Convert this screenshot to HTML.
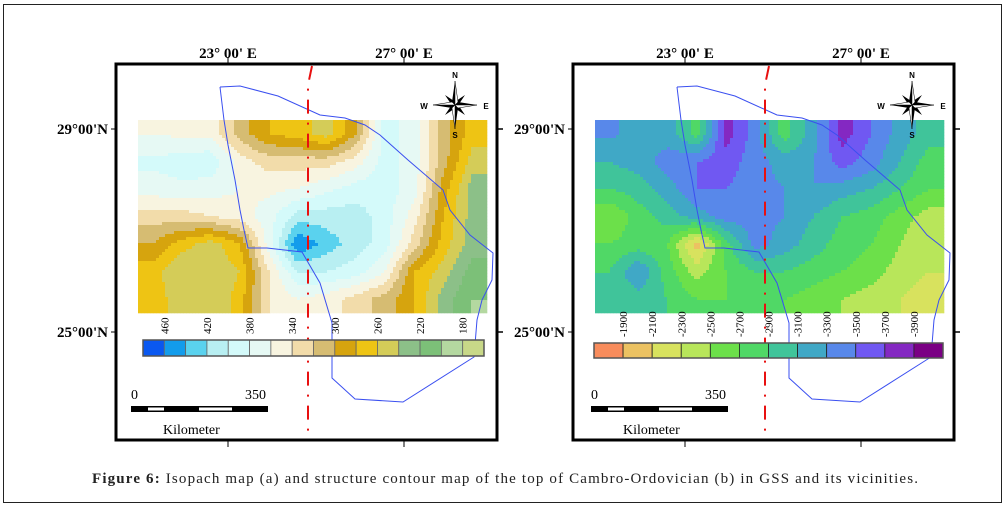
<!DOCTYPE html>
<html><head><meta charset="utf-8"><style>
body{margin:0;background:#fff;width:1006px;height:508px;overflow:hidden;font-family:"Liberation Serif",serif}
svg{position:absolute;left:0;top:0}
</style></head><body>
<svg id="fig" width="1006" height="508" viewBox="0 0 1006 508">
<rect x="3.5" y="4.5" width="998" height="498" fill="#fff" stroke="#222" stroke-width="1"/>
<g id="mapA"></g>
<g id="mapB"></g>
<text x="92" y="483" font-size="15" textLength="826" lengthAdjust="spacing" fill="#222"><tspan font-weight="bold">Figure 6:</tspan> Isopach map (a) and structure contour map of the top of Cambro-Ordovician (b) in GSS and its vicinities.</text>
</svg>
<script>
// Isopach thickness grid (rows top->bottom, cols left->right)
const isoGrid = [
 [350,345,345,300,270,260,240,290,380,360,300,260],
 [375,380,385,340,320,320,320,340,380,360,300,240],
 [360,365,360,350,345,350,365,380,380,360,280,220],
 [320,320,330,340,360,400,400,400,380,340,270,220],
 [290,260,240,270,360,450,420,400,380,320,260,220],
 [260,230,230,250,330,390,390,380,350,270,240,200],
 [260,240,230,260,330,350,340,320,300,270,220,190]
];
const isoLabels = ["460","420","380","340","300","260","220","180"];
const isoColors = ["#0a58f0","#139ceb","#5ad2ee","#b8eff2","#d4fafa","#e6f9f4","#f8f4e0","#f2dcaa","#d6bc72","#d6a40e","#eec414","#d4cc58","#8cc088","#7cc078","#b4d8a0","#c8d888"];
// Structure contour depth grid
const strGrid = [
 [-3450,-3300,-3300,-2900,-3900,-3500,-2900,-3300,-3900,-3600,-3300,-3100],
 [-3200,-3300,-3500,-3600,-3700,-3500,-3300,-3400,-3700,-3500,-3200,-2900],
 [-3000,-3100,-3300,-3600,-3600,-3500,-3400,-3400,-3300,-3200,-3000,-2800],
 [-2600,-2900,-3100,-3300,-3500,-3500,-3400,-3200,-3000,-2900,-2700,-2500],
 [-2800,-2900,-2800,-2100,-2900,-3500,-3300,-3100,-2900,-2800,-2600,-2400],
 [-3000,-3400,-2900,-2500,-2800,-3000,-3000,-2900,-2800,-2700,-2500,-2400],
 [-3100,-3100,-3000,-2800,-2800,-2900,-2800,-2700,-2600,-2500,-2400,-2300]
];
const strLabels = ["-1900","-2100","-2300","-2500","-2700","-2900","-3100","-3300","-3500","-3700","-3900"];
const strColors = ["#f88c5c","#ecc262","#d8e25e","#b8e65a","#6ce04a","#50d866","#40c49a","#40a8c6","#5888ea","#7058f2","#8428c2","#7a0084"];

const NS="http://www.w3.org/2000/svg";
function mk(tag,attrs,parent){const e=document.createElementNS(NS,tag);for(const k in attrs)e.setAttribute(k,attrs[k]);if(parent)parent.appendChild(e);return e;}

function drawMap(g,dx,grid,classOf,colors,labels,isIso){
  const fx=116+dx, fy=64, fw=381, fh=376;
  const rx=138+dx, ry=120, rw=349, rh=193;
  const rows=grid.length, cols=grid[0].length;
  const cw=rw/cols, ch=rh/rows;
  const field=mk('g',{},g);
  
  
  const step=3;
  for(let py=0;py<rh;py+=step){
    for(let px=0;px<rw;px+=step){
      let gx=(px+step/2)/cw-0.5, gy=(py+step/2)/ch-0.5;
      gx=Math.max(0,Math.min(cols-1,gx)); gy=Math.max(0,Math.min(rows-1,gy));
      const x0=Math.floor(gx), y0=Math.floor(gy);
      const x1=Math.min(cols-1,x0+1), y1=Math.min(rows-1,y0+1);
      const tx=gx-x0, ty=gy-y0;
      const v=(grid[y0][x0]*(1-tx)+grid[y0][x1]*tx)*(1-ty)+(grid[y1][x0]*(1-tx)+grid[y1][x1]*tx)*ty;
      mk('rect',{x:rx+px,y:ry+py,width:Math.min(step,rw-px)+0.3,height:Math.min(step,rh-py)+0.3,fill:colors[classOf(v)]},field);
    }
  }
  const bx=[220,240,278,320,345,365,380,408,443,450,470,493,492,482,477,474,403,355,332,332,320,302,267,248,244,240,235,228,224,220];
  const by=[87,86,96,115,118,125,135,160,190,210,235,253,280,300,320,357,402,399,378,323,283,252,248,248,230,210,180,145,120,87];
  let pts=bx.map((x,i)=>(x+dx)+','+by[i]).join(' ');
  const poly=mk('polyline',{points:pts,fill:'none',stroke:'#3a4ff0','stroke-width':1},g);
  
  
  const rl=mk('path',{d:`M${312+dx} ${fy+2} L${308+dx} 85 L${308+dx} ${fy+fh-2}`,fill:'none',stroke:'#e81010','stroke-width':2,'stroke-dasharray':'14 9 2 9'},g);
  
  
  const fr=mk('rect',{x:fx,y:fy,width:fw,height:fh,fill:'none',stroke:'#000','stroke-width':3},g);
  
  
  [[228,"23° 00' E"],[404,"27° 00' E"]].forEach(([x,t])=>{
    mk('line',{x1:x+dx,y1:fy-7,x2:x+dx,y2:fy,stroke:'#000','stroke-width':1},g);
    mk('line',{x1:x+dx,y1:fy+fh,x2:x+dx,y2:fy+fh+7,stroke:'#000','stroke-width':1},g);
    const tt=mk('text',{x:x+dx,y:58,'font-size':15,'font-weight':'bold','text-anchor':'middle'},g);
    tt.textContent=t;
    
    
  });
  [[129,"29°00'N"],[332,"25°00'N"]].forEach(([y,t])=>{
    mk('line',{x1:fx-5,y1:y,x2:fx,y2:y,stroke:'#000','stroke-width':1},g);
    mk('line',{x1:fx+fw,y1:y,x2:fx+fw+6,y2:y,stroke:'#000','stroke-width':1.5},g);
    const tt=mk('text',{x:fx-8,y:y+5,'font-size':15,'font-weight':'bold','text-anchor':'end'},g);
    tt.textContent=t;
    
    
  });
  const cx=455+dx, cy=105;
  const cp=mk('g',{},g);
  
  
  mk('path',{d:`M${cx} ${cy-24} L${cx+3} ${cy-3} L${cx+22} ${cy} L${cx+3} ${cy+3} L${cx} ${cy+24} L${cx-3} ${cy+3} L${cx-22} ${cy} L${cx-3} ${cy-3}Z`,fill:'#000'},cp);
  mk('path',{d:`M${cx-10} ${cy-10} L${cx+2} ${cy-2} L${cx+10} ${cy+10} L${cx-2} ${cy+2}Z M${cx+10} ${cy-10} L${cx+2} ${cy+2} L${cx-10} ${cy+10} L${cx-2} ${cy-2}Z`,fill:'#000'},cp);
  mk('path',{d:`M${cx} ${cy-24} L${cx+3} ${cy-3} L${cx} ${cy} Z M${cx+22} ${cy} L${cx+3} ${cy+3} L${cx} ${cy}Z M${cx} ${cy+24} L${cx-3} ${cy+3} L${cx} ${cy}Z M${cx-22} ${cy} L${cx-3} ${cy-3} L${cx} ${cy}Z`,fill:'#fff',stroke:'#000','stroke-width':0.5},cp);
  [["N",cx,cy-27],["S",cx,cy+33],["W",cx-31,cy+4],["E",cx+31,cy+4]].forEach(([t,x,y])=>{const e=mk('text',{x:x,y:y,'font-size':8,'font-weight':'bold','font-family':'Liberation Sans, sans-serif','text-anchor':'middle'},cp);e.textContent=t;});
  const cby=isIso?340:343, cbw=isIso?341:349, cbh=isIso?16:15;
  const cbX=isIso?143+dx:594, n=colors.length, bw=cbw/n;
  colors.forEach((c,i)=>{
    const b=mk('rect',{x:cbX+i*bw,y:cby,width:bw,height:cbh,fill:c,stroke:isIso?'#666':'#222','stroke-width':0.8},g);
    
    
  });
  mk('rect',{x:cbX,y:cby,width:cbw,height:cbh,fill:'none',stroke:'#555','stroke-width':1.5},g);
  labels.forEach((t,i)=>{
    const x=isIso?cbX+(2*i+1)*bw:cbX+(i+1)*bw;
    const e=mk('text',{x:0,y:0,'font-size':11,'text-anchor':'start',transform:`translate(${x+4},${cby-6}) rotate(-90)`},g);
    e.textContent=t;
    
    
  });
  const sx=isIso?131+dx:591, sy=406;
  const sb=mk('g',{},g);
  
  
  mk('rect',{x:sx,y:sy,width:137,height:6,fill:'#000'},sb);
  mk('rect',{x:sx+17,y:sy+1.5,width:16,height:3,fill:'#fff'},sb);
  mk('rect',{x:sx+68,y:sy+1.5,width:33,height:3,fill:'#fff'},sb);
  const z=mk('text',{x:sx,y:399,'font-size':14},sb);z.textContent="0";
  const f=mk('text',{x:sx+114,y:399,'font-size':14},sb);f.textContent="350";
  const k=mk('text',{x:sx+32,y:434,'font-size':14},sb);k.textContent="Kilometer";
}
function isoClass(v){let i=Math.round((460-v)/20);return Math.max(0,Math.min(isoColors.length-1,i));}
function strClass(v){let i=Math.round((-1900-v)/200);return Math.max(0,Math.min(strColors.length-1,i));}
drawMap(document.getElementById('mapA'),0,isoGrid,isoClass,isoColors,isoLabels,true);
drawMap(document.getElementById('mapB'),457,strGrid,strClass,strColors,strLabels,false);
</script>
</body></html>
